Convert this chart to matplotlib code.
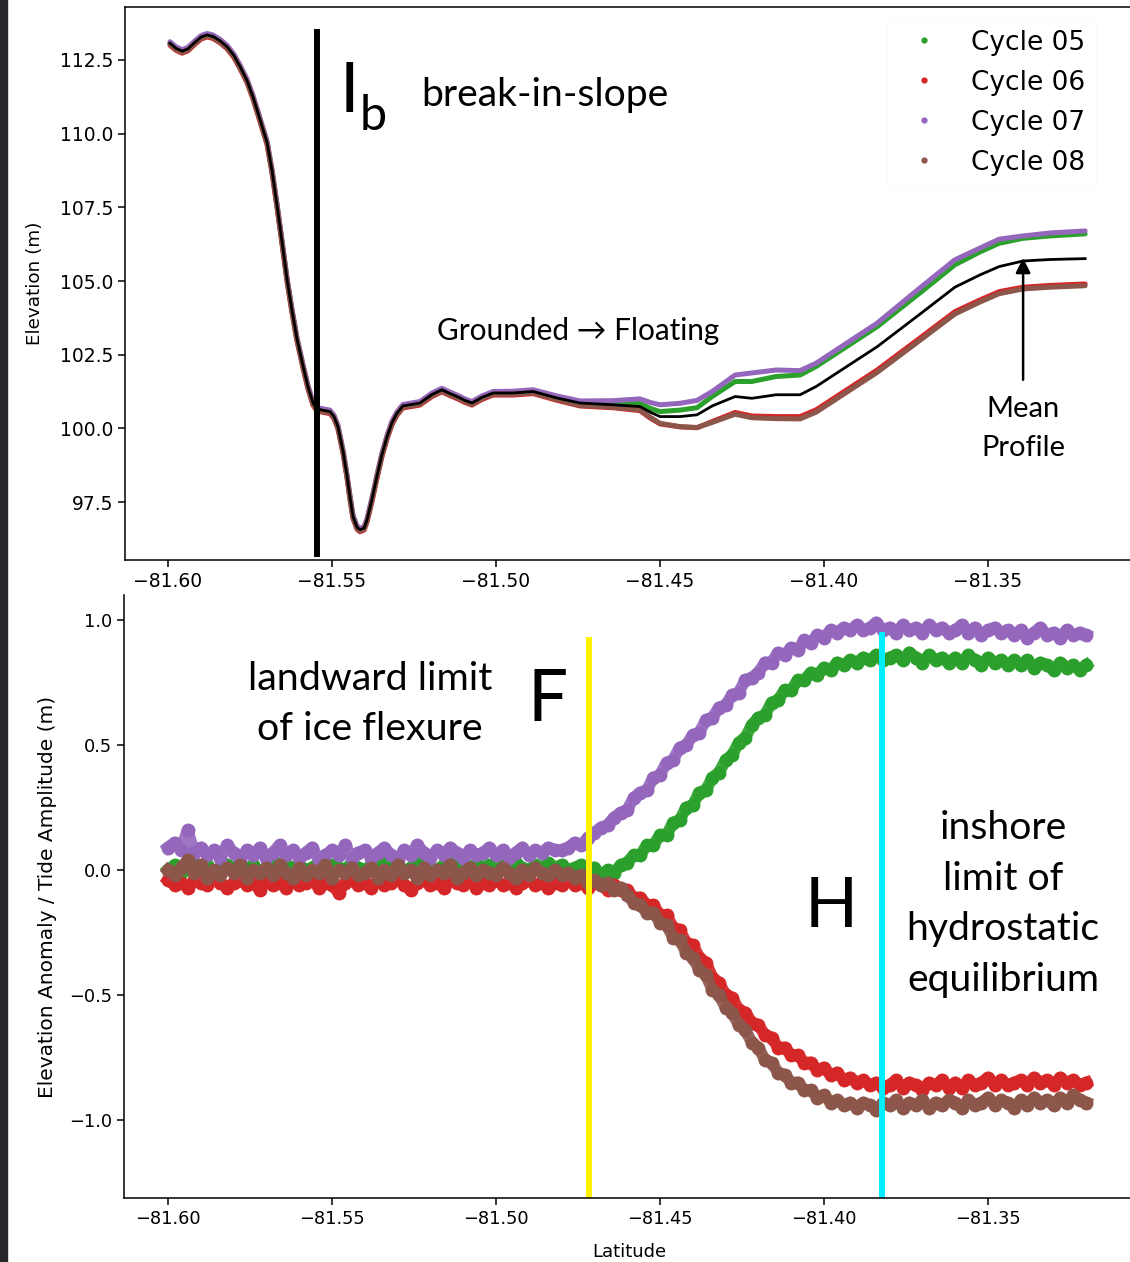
import numpy as np
import matplotlib
matplotlib.use("Agg")
import matplotlib.pyplot as plt
from matplotlib.lines import Line2D
from matplotlib.patches import Rectangle

# ---- top panel: elevation profiles along the track ----
lat_prof = [
    -81.5994, -81.5976, -81.5957, -81.5939, -81.5918, -81.5899, -81.5881, -81.5863, -81.5841, -81.5820,
    -81.5799, -81.5780, -81.5759, -81.5741, -81.5720, -81.5698, -81.5683, -81.5668, -81.5652, -81.5637,
    -81.5622, -81.5607, -81.5588, -81.5573, -81.5558, -81.5546, -81.5530, -81.5506, -81.5494, -81.5482,
    -81.5466, -81.5454, -81.5445, -81.5436, -81.5424, -81.5415, -81.5402, -81.5393, -81.5378, -81.5363,
    -81.5348, -81.5332, -81.5317, -81.5302, -81.5284, -81.5232, -81.5195, -81.5165, -81.5140, -81.5119,
    -81.5095, -81.5073, -81.5043, -81.5009, -81.4948, -81.4887, -81.4814, -81.4744, -81.4643, -81.4561,
    -81.4530, -81.4500, -81.4439, -81.4387, -81.4341, -81.4271, -81.4220, -81.4146, -81.4073, -81.4024,
    -81.3838, -81.3707, -81.3601, -81.3524, -81.3466, -81.3393, -81.3311, -81.3204,
]
mean_prof = [
    113.07, 112.90, 112.80, 112.88, 113.10, 113.28, 113.35, 113.30, 113.15, 112.95,
    112.65, 112.27, 111.80, 111.25, 110.50, 109.70, 108.75, 107.60, 106.30, 105.05,
    104.00, 103.05, 102.10, 101.40, 100.86, 100.66, 100.62, 100.57, 100.40, 100.06,
    99.20, 98.37, 97.65, 97.01, 96.65, 96.56, 96.62, 96.90, 97.60, 98.37,
    99.10, 99.72, 100.20, 100.51, 100.76, 100.86, 101.15, 101.31, 101.18, 101.08,
    100.95, 100.86, 101.05, 101.20, 101.20, 101.25, 101.03, 100.86, 100.80, 100.74,
    100.55, 100.40, 100.40, 100.46, 100.76, 101.08, 101.02, 101.14, 101.14, 101.42,
    102.77, 103.88, 104.79, 105.21, 105.49, 105.68, 105.73, 105.76,
]
elev_c05 = [
    113.08, 112.91, 112.81, 112.89, 113.11, 113.29, 113.36, 113.31, 113.16, 112.96,
    112.66, 112.28, 111.81, 111.26, 110.51, 109.71, 108.76, 107.61, 106.31, 105.06,
    104.01, 103.06, 102.11, 101.41, 100.87, 100.67, 100.63, 100.58, 100.41, 100.07,
    99.21, 98.38, 97.66, 97.02, 96.66, 96.57, 96.63, 96.91, 97.61, 98.38,
    99.11, 99.73, 100.21, 100.52, 100.77, 100.87, 101.16, 101.32, 101.19, 101.09,
    100.96, 100.87, 101.06, 101.21, 101.21, 101.26, 101.05, 100.88, 100.86, 100.85,
    100.68, 100.57, 100.62, 100.70, 101.08, 101.59, 101.59, 101.76, 101.81, 102.10,
    103.45, 104.60, 105.55, 105.99, 106.28, 106.45, 106.53, 106.60,
]
elev_c06 = [
    113.00, 112.83, 112.73, 112.81, 113.03, 113.21, 113.28, 113.23, 113.08, 112.88,
    112.58, 112.20, 111.73, 111.18, 110.43, 109.63, 108.68, 107.53, 106.23, 104.98,
    103.93, 102.98, 102.03, 101.33, 100.79, 100.59, 100.55, 100.50, 100.33, 99.99,
    99.13, 98.30, 97.58, 96.94, 96.58, 96.49, 96.55, 96.83, 97.53, 98.30,
    99.03, 99.65, 100.13, 100.44, 100.69, 100.79, 101.08, 101.24, 101.11, 101.01,
    100.88, 100.79, 100.98, 101.13, 101.13, 101.18, 100.95, 100.76, 100.70, 100.60,
    100.35, 100.15, 100.05, 100.02, 100.23, 100.54, 100.42, 100.40, 100.40, 100.63,
    101.98, 103.07, 103.96, 104.36, 104.64, 104.79, 104.85, 104.90,
]
elev_c07 = [
    113.12, 112.95, 112.85, 112.93, 113.15, 113.33, 113.40, 113.35, 113.20, 113.00,
    112.70, 112.32, 111.85, 111.30, 110.55, 109.75, 108.80, 107.65, 106.35, 105.10,
    104.05, 103.10, 102.15, 101.45, 100.91, 100.71, 100.67, 100.62, 100.45, 100.11,
    99.25, 98.42, 97.70, 97.06, 96.70, 96.61, 96.67, 96.95, 97.65, 98.42,
    99.15, 99.77, 100.25, 100.56, 100.81, 100.91, 101.20, 101.36, 101.23, 101.13,
    101.00, 100.91, 101.10, 101.25, 101.26, 101.31, 101.10, 100.93, 100.94, 101.00,
    100.88, 100.80, 100.85, 100.95, 101.25, 101.81, 101.88, 101.98, 101.96, 102.21,
    103.57, 104.77, 105.72, 106.12, 106.42, 106.53, 106.63, 106.70,
]
elev_c08 = [
    113.03, 112.86, 112.76, 112.84, 113.06, 113.24, 113.31, 113.26, 113.11, 112.91,
    112.61, 112.23, 111.76, 111.21, 110.46, 109.66, 108.71, 107.56, 106.26, 105.01,
    103.96, 103.01, 102.06, 101.36, 100.82, 100.62, 100.58, 100.53, 100.36, 100.02,
    99.16, 98.33, 97.61, 96.97, 96.61, 96.52, 96.58, 96.86, 97.56, 98.33,
    99.06, 99.68, 100.16, 100.47, 100.72, 100.82, 101.11, 101.27, 101.14, 101.04,
    100.91, 100.82, 101.01, 101.16, 101.16, 101.21, 100.98, 100.78, 100.72, 100.63,
    100.38, 100.17, 100.06, 100.03, 100.20, 100.48, 100.36, 100.33, 100.32, 100.55,
    101.90, 102.99, 103.88, 104.29, 104.57, 104.73, 104.79, 104.84,
]

# ---- bottom panel: anomaly / tide amplitude, sampled every 0.002 deg ----
lat_anom = np.linspace(-81.600, -81.320, 141)
anom_c05 = [
    0.00, 0.02, -0.01, 0.01, 0.03, 0.00, 0.02, -0.01, 0.01, 0.02,
    0.01, 0.03, 0.00, 0.02, -0.01, 0.01, 0.04, 0.00, 0.02, 0.01,
    0.02, 0.00, 0.01, 0.03, -0.01, 0.02, 0.01, 0.00, 0.03, 0.01,
    0.00, 0.02, 0.01, 0.03, 0.00, 0.02, -0.01, 0.01, 0.03, 0.02,
    0.01, 0.00, 0.02, 0.04, 0.01, 0.02, 0.00, 0.03, 0.01, 0.02,
    0.00, 0.02, 0.01, 0.03, 0.01, 0.00, 0.02, 0.01, 0.03, 0.01,
    0.02, 0.00, 0.01, 0.02, -0.01, 0.01, -0.02, 0.00, -0.01, 0.02,
    0.03, 0.06, 0.06, 0.10, 0.10, 0.14, 0.14, 0.19, 0.20, 0.25,
    0.26, 0.31, 0.32, 0.37, 0.39, 0.44, 0.46, 0.51, 0.53, 0.58,
    0.61, 0.62, 0.67, 0.68, 0.72, 0.72, 0.76, 0.76, 0.79, 0.78,
    0.81, 0.80, 0.83, 0.82, 0.84, 0.83, 0.85, 0.84, 0.86, 0.84,
    0.85, 0.86, 0.84, 0.87, 0.85, 0.83, 0.86, 0.84, 0.85, 0.83,
    0.85, 0.83, 0.86, 0.84, 0.82, 0.85, 0.83, 0.84, 0.82, 0.84,
    0.82, 0.84, 0.81, 0.83, 0.82, 0.80, 0.83, 0.81, 0.82, 0.80,
    0.82,
]
anom_c06 = [
    -0.04, -0.06, -0.05, -0.07, -0.04, -0.05, -0.06, -0.03, -0.05, -0.07,
    -0.05, -0.04, -0.06, -0.05, -0.08, -0.04, -0.06, -0.05, -0.07, -0.04,
    -0.06, -0.05, -0.04, -0.07, -0.05, -0.06, -0.09, -0.05, -0.04, -0.06,
    -0.05, -0.07, -0.04, -0.06, -0.05, -0.03, -0.06, -0.08, -0.05, -0.04,
    -0.06, -0.05, -0.07, -0.04, -0.05, -0.06, -0.04, -0.07, -0.05, -0.06,
    -0.04, -0.06, -0.05, -0.07, -0.05, -0.04, -0.06, -0.05, -0.07, -0.05,
    -0.06, -0.04, -0.06, -0.05, -0.07, -0.05, -0.06, -0.08, -0.06, -0.08,
    -0.08, -0.11, -0.11, -0.14, -0.14, -0.18, -0.18, -0.23, -0.24, -0.29,
    -0.30, -0.35, -0.37, -0.43, -0.45, -0.50, -0.51, -0.56, -0.57, -0.61,
    -0.62, -0.66, -0.67, -0.71, -0.71, -0.74, -0.74, -0.77, -0.77, -0.80,
    -0.79, -0.82, -0.81, -0.84, -0.83, -0.85, -0.84, -0.86, -0.85, -0.87,
    -0.86, -0.84, -0.87, -0.85, -0.86, -0.88, -0.85, -0.86, -0.84, -0.87,
    -0.85, -0.87, -0.84, -0.86, -0.85, -0.83, -0.86, -0.84, -0.86, -0.85,
    -0.84, -0.86, -0.83, -0.85, -0.84, -0.86, -0.83, -0.85, -0.84, -0.86,
    -0.85,
]
anom_c07 = [
    0.09, 0.11, 0.08, 0.16, 0.07, 0.09, 0.06, 0.08, 0.05, 0.10,
    0.07, 0.04, 0.08, 0.06, 0.09, 0.05, 0.07, 0.10, 0.06, 0.08,
    0.05, 0.07, 0.09, 0.04, 0.06, 0.08, 0.06, 0.10, 0.05, 0.07,
    0.08, 0.05, 0.07, 0.09, 0.06, 0.04, 0.08, 0.06, 0.10, 0.07,
    0.05, 0.08, 0.06, 0.09, 0.07, 0.05, 0.08, 0.06, 0.07, 0.09,
    0.06, 0.08, 0.05, 0.07, 0.09, 0.06, 0.08, 0.07, 0.09, 0.08,
    0.08, 0.09, 0.11, 0.10, 0.13, 0.15, 0.17, 0.18, 0.21, 0.23,
    0.24, 0.29, 0.31, 0.32, 0.37, 0.38, 0.43, 0.44, 0.49, 0.50,
    0.54, 0.55, 0.60, 0.61, 0.65, 0.66, 0.70, 0.71, 0.76, 0.77,
    0.79, 0.83, 0.83, 0.87, 0.86, 0.89, 0.88, 0.92, 0.91, 0.94,
    0.93, 0.96, 0.95, 0.97, 0.96, 0.98, 0.96, 0.97, 0.99, 0.96,
    0.97, 0.95, 0.98, 0.96, 0.97, 0.95, 0.98, 0.96, 0.97, 0.95,
    0.96, 0.98, 0.95, 0.97, 0.94, 0.96, 0.97, 0.95, 0.96, 0.94,
    0.96, 0.93, 0.95, 0.97, 0.94, 0.95, 0.93, 0.96, 0.94, 0.95,
    0.94,
]
anom_c08 = [
    0.00, -0.02, 0.01, 0.04, -0.01, 0.02, -0.03, 0.00, -0.02, 0.01,
    -0.01, 0.02, -0.03, 0.00, -0.01, 0.01, -0.02, 0.02, -0.01, -0.03,
    0.01, -0.02, 0.00, -0.01, 0.02, -0.03, 0.00, -0.01, 0.01, -0.02,
    -0.01, 0.01, -0.03, 0.00, -0.02, 0.02, -0.01, 0.00, -0.03, 0.01,
    -0.02, 0.00, -0.01, 0.02, -0.03, -0.01, 0.01, -0.02, 0.00, -0.01,
    -0.02, 0.01, -0.01, -0.03, 0.00, -0.02, 0.01, -0.01, -0.02, 0.00,
    -0.02, -0.01, -0.03, -0.02, -0.05, -0.04, -0.06, -0.05, -0.08, -0.07,
    -0.10, -0.13, -0.14, -0.17, -0.17, -0.21, -0.22, -0.27, -0.28, -0.33,
    -0.35, -0.40, -0.42, -0.48, -0.50, -0.55, -0.57, -0.62, -0.64, -0.69,
    -0.71, -0.76, -0.77, -0.81, -0.82, -0.85, -0.85, -0.88, -0.88, -0.91,
    -0.90, -0.93, -0.92, -0.94, -0.93, -0.95, -0.93, -0.94, -0.96, -0.93,
    -0.94, -0.92, -0.95, -0.93, -0.94, -0.92, -0.95, -0.93, -0.94, -0.92,
    -0.93, -0.95, -0.92, -0.94, -0.93, -0.91, -0.94, -0.92, -0.93, -0.95,
    -0.92, -0.94, -0.91, -0.93, -0.92, -0.94, -0.91, -0.93, -0.90, -0.92,
    -0.93,
]

cycle_names = ["Cycle 05", "Cycle 06", "Cycle 07", "Cycle 08"]
cycle_colors = ["#2ca02c", "#d62728", "#9467bd", "#8c564b"]
xtick_vals = [-81.60, -81.55, -81.50, -81.45, -81.40, -81.35]
xtick_labels = ["\u221281.60", "\u221281.55", "\u221281.50", "\u221281.45", "\u221281.40", "\u221281.35"]

# reference lines
lat_break = -81.5547   # I_b
lat_flex = -81.4716    # F
lat_hydro = -81.3823   # H

ann_font = ["Lato", "DejaVu Sans"]

fig = plt.figure(figsize=(11.3, 12.62), dpi=100)
fig.add_artist(Rectangle((0, 0), 7 / 1130, 1, transform=fig.transFigure,
                         color="#25272b", zorder=10))

# ---------------- top panel ----------------
ax1 = fig.add_axes([0.11062, 0.55626, 0.89292, 0.43819])
top_series = [elev_c05, elev_c06, elev_c07, elev_c08]
for vals, c in zip(top_series, cycle_colors):
    ax1.plot(lat_prof, vals, color=c, lw=3.6, solid_capstyle="round")
ax1.plot(lat_prof, mean_prof, color="black", lw=2.0)
ax1.vlines(lat_break, 95.64, 113.54, color="black", lw=4.3)

ax1.set_xlim(-81.61311, -81.30549)
ax1.set_ylim(95.533, 114.298)
ax1.set_xticks(xtick_vals)
ax1.set_xticklabels(xtick_labels)
ax1.set_yticks([97.5, 100.0, 102.5, 105.0, 107.5, 110.0, 112.5])
ax1.tick_params(labelsize=13.5, length=5, width=1.1)
ax1.set_ylabel("Elevation (m)", fontsize=13.2)
ax1.yaxis.set_label_coords(-0.080, 0.5)
for s in ax1.spines.values():
    s.set_linewidth(1.1)

handles = [Line2D([], [], ls="none", marker="o", ms=3.5, color=c) for c in cycle_colors]
ax1.legend(handles, cycle_names, fontsize=19, loc="upper right",
           bbox_to_anchor=(1096 / 1130, 1 - 19 / 1262), bbox_transform=fig.transFigure,
           borderaxespad=0, labelspacing=0.53, handletextpad=0.8,
           fancybox=False, edgecolor="#fbfbfb", framealpha=1)

# I_b label: "b" placed right after the "I" glyph box
t_i = ax1.text(-81.5478, 110.736, "I", fontsize=50, family=ann_font, ha="left", va="baseline")
fig.canvas.draw()
bb_i = t_i.get_window_extent()
x_b = ax1.transData.inverted().transform((bb_i.x1 + 1, 0))[0]
ax1.text(max(x_b, -81.5423), 110.125, "b", fontsize=35, family=ann_font,
         ha="left", va="baseline")
ax1.text(-81.4852, 111.31, "break-in-slope", fontsize=28.2, family=ann_font,
         ha="center", va="center")
ax1.text(-81.4750, 103.307, "Grounded \u2192 Floating", fontsize=21.4, family=ann_font,
         ha="center", va="center")
ax1.text(-81.3393, 100.0, "Mean\nProfile", fontsize=21, family=ann_font,
         ha="center", va="center", linespacing=1.6)
ax1.annotate("", xy=(-81.3393, 105.78), xytext=(-81.3393, 101.65),
             arrowprops=dict(arrowstyle="-|>", color="black", lw=1.8,
                             mutation_scale=22, shrinkA=0, shrinkB=0))

# ---------------- bottom panel ----------------
ax2 = fig.add_axes([0.10973, 0.05071, 0.89381, 0.47781])
bottom_series = [anom_c05, anom_c06, anom_c07, anom_c08]
for vals, c in zip(bottom_series, cycle_colors):
    ax2.plot(lat_anom, vals, color=c, lw=8.5, alpha=0.9, solid_joinstyle="round")
    ax2.plot(lat_anom, vals, ls="none", marker="o", ms=10, mew=0, color=c)
ax2.vlines(lat_flex, -1.312, 0.932, color="#fff200", lw=4.3)
ax2.vlines(lat_hydro, -1.312, 0.952, color="#00eeff", lw=4.3)

ax2.set_xlim(-81.61341, -81.30549)
ax2.set_ylim(-1.312, 1.10)
ax2.set_xticks(xtick_vals)
ax2.set_xticklabels(xtick_labels)
ax2.set_yticks([-1.0, -0.5, 0.0, 0.5, 1.0])
ax2.set_yticklabels(["\u22121.0", "\u22120.5", "0.0", "0.5", "1.0"])
ax2.tick_params(labelsize=12.8, length=5, width=1.1)
ax2.spines["top"].set_visible(False)
for s in ax2.spines.values():
    s.set_linewidth(1.1)
ax2.set_ylabel("Elevation Anomaly / Tide Amplitude (m)", fontsize=14.5)
ax2.yaxis.set_label_coords(-0.066, 0.5)
ax2.set_xlabel("Latitude", fontsize=13)
ax2.xaxis.set_label_coords(0.5, -0.0746)

ax2.text(-81.5384, 0.664, "landward limit\nof ice flexure", fontsize=28.4,
         family=ann_font, ha="center", va="center", linespacing=1.48)
ax2.text(-81.4843, 0.68, "F", fontsize=51, family=ann_font, ha="center", va="center")
ax2.text(-81.3977, -0.148, "H", fontsize=50, family=ann_font, ha="center", va="center")
ax2.text(-81.3454, -0.136, "inshore\nlimit of\nhydrostatic\nequilibrium", fontsize=28.2,
         family=ann_font, ha="center", va="center", linespacing=1.5)

fig.savefig("out.png", dpi=100)
